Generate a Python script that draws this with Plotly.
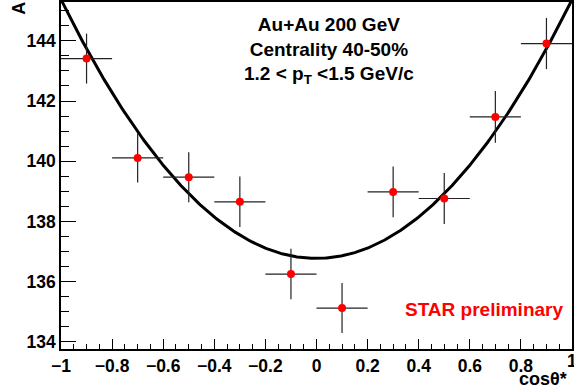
import numpy as np
import plotly.graph_objects as go

# data
cos_theta = [-0.9, -0.7, -0.5, -0.3, -0.1, 0.1, 0.3, 0.5, 0.7, 0.9]
a_values = [143.41, 140.11, 139.47, 138.65, 136.25, 135.12, 138.98, 138.76, 141.47, 143.91]
a_errors = [0.83, 0.82, 0.83, 0.84, 0.84, 0.83, 0.84, 0.85, 0.86, 0.85]
x_half_width = [0.1] * 10

# fit: A = p0 + p1 * cos^2
fit_p0 = 136.77
fit_p1 = 8.6

x_ticks = [-1, -0.8, -0.6, -0.4, -0.2, 0, 0.2, 0.4, 0.6, 0.8]
y_ticks = [134, 136, 138, 140, 142, 144]

xf = np.linspace(-1, 1, 401)
yf = fit_p0 + fit_p1 * xf ** 2

FONT = "Liberation Sans"

fig = go.Figure()
fig.add_trace(go.Scatter(
    x=xf, y=yf, mode="lines",
    line=dict(color="black", width=3),
    hoverinfo="skip", showlegend=False,
))
fig.add_trace(go.Scatter(
    x=cos_theta, y=a_values, mode="markers",
    marker=dict(color="#ff0000", size=8, line=dict(width=0)),
    error_y=dict(type="data", array=a_errors, color="#222222", thickness=1.2, width=0),
    error_x=dict(type="data", array=x_half_width, color="#222222", thickness=1.2, width=0),
    showlegend=False,
))

fig.update_layout(
    width=574, height=392,
    margin=dict(l=61, r=0, t=1, b=43),
    paper_bgcolor="white", plot_bgcolor="white",
    font=dict(family=FONT, color="black"),
    xaxis=dict(
        range=[-1, 1], tickvals=x_ticks + [1],
        ticks="inside", ticklen=10, tickwidth=1, tickcolor="black",
        minor=dict(dtick=0.05, ticks="inside", ticklen=5, tickwidth=1, tickcolor="black"),
        showline=True, linecolor="black", linewidth=1.5, mirror=True,
        showgrid=False, zeroline=False,
        tickfont=dict(family=FONT, size=17.5, weight="bold", color="black"),
    ),
    yaxis=dict(
        range=[133.76, 145.29], tickvals=y_ticks,
        ticks="inside", ticklen=15, tickwidth=1, tickcolor="black",
        minor=dict(dtick=0.5, ticks="inside", ticklen=8, tickwidth=1, tickcolor="black"),
        showline=True, linecolor="black", linewidth=1.5, mirror=True,
        showgrid=False, zeroline=False,
        tickfont=dict(family=FONT, size=17.5, weight="bold", color="black"),
    ),
)

# place annotations in pixel terms
L, T, W, H = 61, 1, 513, 348
def px(xp):
    return (xp - L) / W
def py(yp):
    return (T + H - yp) / H

fig.update_layout(annotations=[
    dict(text="A", x=px(18.5), y=py(7), xref="paper", yref="paper", showarrow=False,
         xanchor="center", yanchor="middle", textangle=-90,
         font=dict(family=FONT, size=18, weight="bold")),
    dict(text="cosθ*", x=px(571), y=py(379), xref="paper", yref="paper", showarrow=False,
         xanchor="right", yanchor="middle",
         font=dict(family=FONT, size=18, weight="bold")),
    dict(text="1", x=px(574), y=py(361), xref="paper", yref="paper", showarrow=False,
         xanchor="center", yanchor="middle",
         font=dict(family=FONT, size=17.5, weight="bold")),
    dict(text="Au+Au 200 GeV<br>Centrality 40-50%<br>1.2 &lt; p<sub>T</sub> &lt;1.5 GeV/c",
         x=px(330), y=py(50), xref="paper", yref="paper", showarrow=False,
         xanchor="center", yanchor="middle", align="center",
         font=dict(family=FONT, size=19, weight="bold")),
    dict(text="STAR preliminary", x=px(486), y=py(309), xref="paper", yref="paper",
         showarrow=False, xanchor="center", yanchor="middle",
         font=dict(family=FONT, size=19, weight="bold", color="#ff0000")),
])

fig.update_xaxes(tickvals=x_ticks)

fig.write_html("out.html")
